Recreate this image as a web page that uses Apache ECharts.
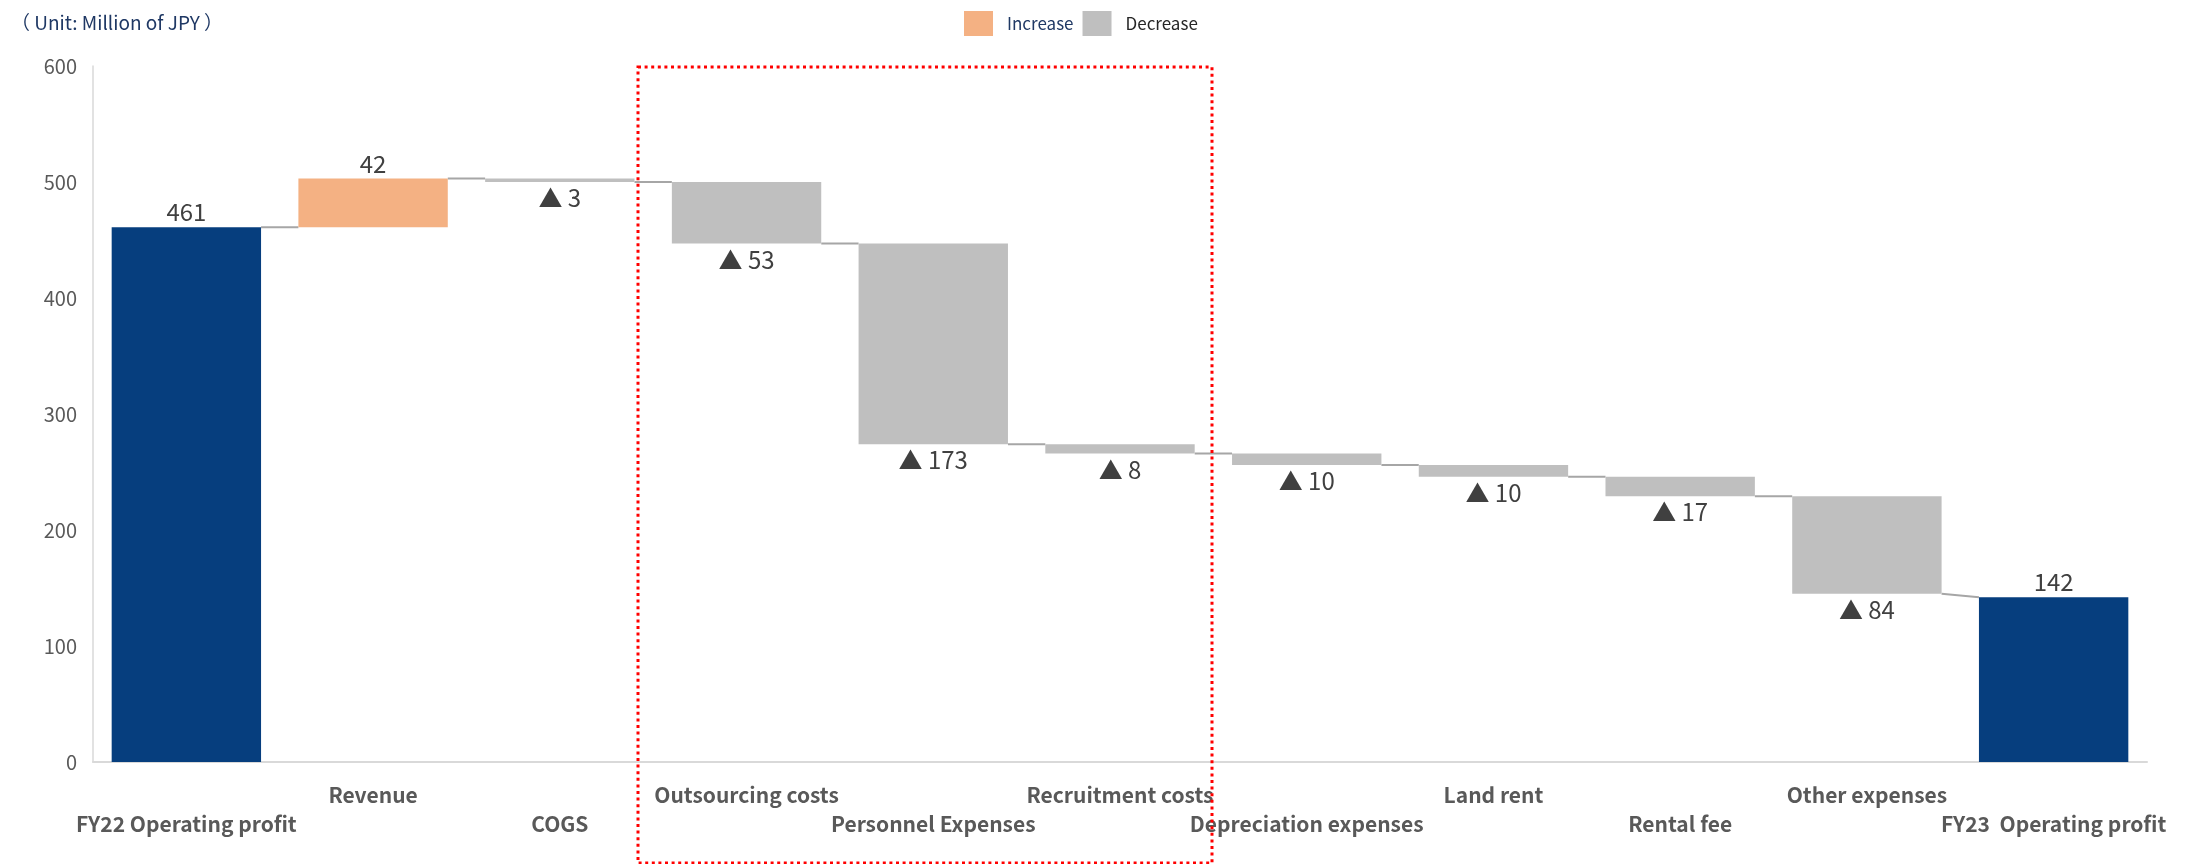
<!DOCTYPE html>
<html>
<head>
<meta charset="utf-8">
<script src="https://cdn.jsdelivr.net/npm/echarts@6/dist/echarts.min.js"></script>
<style>
html,body{margin:0;padding:0;background:#fff;}
#main{width:2197px;height:864px;}
</style>
</head>
<body>
<div id="main"></div>
<script>
const categories = ['FY22 Operating profit','Revenue','COGS','Outsourcing costs','Personnel Expenses','Recruitment costs','Depreciation expenses','Land rent','Rental fee','Other expenses','FY23  Operating profit'];
const startValue = 461;
const changes = [42, -3, -53, -173, -8, -10, -10, -17, -84];
const endValue = 142;
const yTicks = [0, 100, 200, 300, 400, 500, 600];

const FONT = '"Noto Sans CJK JP", "Noto Sans", sans-serif';
const n = categories.length;
const baseData = [], totalData = [], incData = [], decData = [];
const levelAfter = [], levelBefore = [];
totalData.push(startValue); baseData.push(0); incData.push('-'); decData.push('-');
levelBefore.push(0); levelAfter.push(startValue);
let cur = startValue;
changes.forEach(c => {
  levelBefore.push(cur);
  if (c >= 0) { baseData.push(cur); incData.push(c); decData.push('-'); }
  else { baseData.push(cur + c); decData.push(-c); incData.push('-'); }
  totalData.push('-');
  cur += c;
  levelAfter.push(cur);
});
totalData.push(endValue); baseData.push(0); incData.push('-'); decData.push('-');
levelBefore.push(endValue); levelAfter.push(endValue);

const connectors = [];
for (let i = 0; i < n - 1; i++) connectors.push([i, levelAfter[i], levelBefore[i + 1]]);

const labelStyle = { fontFamily: FONT, fontSize: 24, color: '#404040' };

const chart = echarts.init(document.getElementById('main'));
chart.setOption({
  animation: false,
  backgroundColor: '#fff',
  title: {
    text: '（ Unit: Million of JPY ）',
    left: 6, top: 8,
    textStyle: { fontFamily: FONT, fontSize: 19, fontWeight: 'normal', color: '#1f3864' }
  },
  legend: {
    left: 959, top: 6,
    itemWidth: 29, itemHeight: 25, itemGap: 9,
    icon: 'rect',
    data: [
      { name: 'Increase', textStyle: { color: '#1f3864' } },
      { name: 'Decrease', textStyle: { color: '#262626' } }
    ],
    textStyle: { fontFamily: FONT, fontSize: 17, padding: [0, 0, 0, 9] }
  },
  grid: { left: 93, right: 50, top: 66, bottom: 102, containLabel: false },
  xAxis: {
    type: 'category',
    data: categories,
    axisLine: { lineStyle: { color: '#d9d9d9', width: 2 } },
    axisTick: { show: false },
    axisLabel: {
      interval: 0,
      margin: 19,
      lineHeight: 29,
      fontFamily: FONT, fontSize: 21, fontWeight: 'bold', color: '#595959',
      formatter: (v, i) => (i % 2 === 0 ? '\n' : '') + v
    }
  },
  yAxis: {
    type: 'value', min: 0, max: 600, interval: 100,
    axisLine: { show: true, lineStyle: { color: '#d9d9d9', width: 1.5 } },
    axisTick: { show: false },
    splitLine: { show: false },
    axisLabel: { margin: 16, fontFamily: FONT, fontSize: 20, color: '#595959',
      formatter: v => yTicks.includes(v) ? String(v) : '' }
  },
  series: [
    {
      name: 'base', type: 'bar', stack: 'w', barCategoryGap: '20%',
      itemStyle: { color: 'transparent' }, emphasis: { disabled: true },
      data: baseData, silent: true
    },
    {
      name: 'Total', type: 'bar', stack: 'w',
      itemStyle: { color: '#063e7e' },
      label: { show: true, position: 'top', distance: 3, ...labelStyle },
      data: totalData
    },
    {
      name: 'Increase', type: 'bar', stack: 'w',
      itemStyle: { color: '#f4b183' },
      label: { show: true, position: 'top', distance: 3, ...labelStyle },
      data: incData
    },
    {
      name: 'Decrease', type: 'bar', stack: 'w',
      itemStyle: { color: '#bfbfbf' },
      label: { show: true, position: 'bottom', distance: 4, ...labelStyle,
        formatter: p => '▲ ' + p.value },
      data: decData
    },
    {
      name: 'connector', type: 'custom', silent: true, z: 1,
      encode: { x: 0, y: 1 },
      data: connectors,
      renderItem: (params, api) => {
        const i = api.value(0);
        const p1 = api.coord([i, api.value(1)]);
        const p2 = api.coord([i + 1, api.value(2)]);
        const bw = api.size([1, 0])[0] * 0.8;
        return {
          type: 'line',
          shape: { x1: p1[0] + bw / 2, y1: p1[1], x2: p2[0] - bw / 2, y2: p2[1] },
          style: { stroke: '#a6a6a6', lineWidth: 2 }
        };
      }
    }
  ],
  graphic: [{
    type: 'rect', silent: true, z: 100,
    shape: { x: 638, y: 67, width: 574, height: 796 },
    style: { fill: 'none', stroke: '#ff0000', lineWidth: 3, lineDash: [3, 3.6] }
  }]
});
</script>
</body>
</html>
